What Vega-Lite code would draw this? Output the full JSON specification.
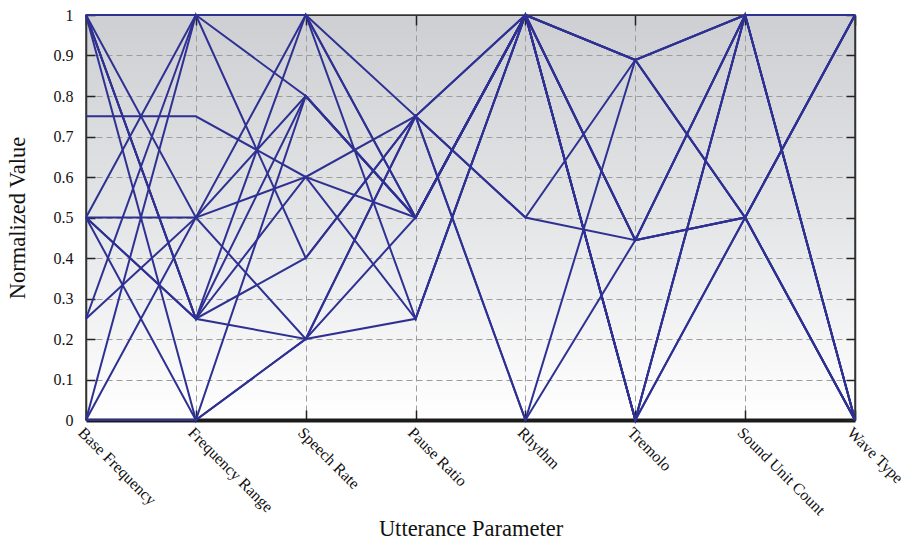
{
  "$schema": "https://vega.github.io/schema/vega-lite/v6.json",
  "width": 769,
  "height": 405,
  "autosize": {"type": "none"},
  "padding": {"left": 86, "top": 15, "right": 54, "bottom": 124},
  "background": "white",
  "config": {
    "view": {
      "fill": {"gradient": "linear", "x1": 0, "y1": 0, "x2": 0, "y2": 1,
        "stops": [{"offset": 0, "color": "#cecfd2"}, {"offset": 0.5, "color": "#e4e5e7"}, {"offset": 1, "color": "#ffffff"}]},
      "stroke": "#3a3a3a",
      "strokeWidth": 1.5
    },
    "axis": {
      "labelFont": "Liberation Serif",
      "titleFont": "Liberation Serif",
      "labelColor": "#111111",
      "titleColor": "#111111",
      "titleFontWeight": "normal",
      "labelFontSize": 16,
      "titleFontSize": 22.5,
      "tickColor": "#222222",
      "domainColor": "#333333"
    }
  },
  "data": {
    "values": [
      {"id": 1, "Base Frequency": 1, "Frequency Range": 1, "Speech Rate": 1, "Pause Ratio": 0.75, "Rhythm": 1, "Tremolo": 0, "Sound Unit Count": 1, "Wave Type": 1},
      {"id": 2, "Base Frequency": 0.5, "Frequency Range": 1, "Speech Rate": 1, "Pause Ratio": 0.5, "Rhythm": 1, "Tremolo": 0, "Sound Unit Count": 0.5, "Wave Type": 1},
      {"id": 3, "Base Frequency": 0.25, "Frequency Range": 1, "Speech Rate": 0.8, "Pause Ratio": 0.5, "Rhythm": 1, "Tremolo": 0, "Sound Unit Count": 1, "Wave Type": 0},
      {"id": 4, "Base Frequency": 0, "Frequency Range": 1, "Speech Rate": 0.4, "Pause Ratio": 0.75, "Rhythm": 0.5, "Tremolo": 0.444, "Sound Unit Count": 1, "Wave Type": 0},
      {"id": 5, "Base Frequency": 0.75, "Frequency Range": 0.75, "Speech Rate": 0.6, "Pause Ratio": 0.75, "Rhythm": 1, "Tremolo": 0.889, "Sound Unit Count": 1, "Wave Type": 1},
      {"id": 6, "Base Frequency": 1, "Frequency Range": 0.5, "Speech Rate": 1, "Pause Ratio": 0.25, "Rhythm": 1, "Tremolo": 0, "Sound Unit Count": 0.5, "Wave Type": 0},
      {"id": 7, "Base Frequency": 0.5, "Frequency Range": 0.5, "Speech Rate": 0.8, "Pause Ratio": 0.5, "Rhythm": 1, "Tremolo": 0.889, "Sound Unit Count": 1, "Wave Type": 0},
      {"id": 8, "Base Frequency": 0.25, "Frequency Range": 0.5, "Speech Rate": 0.6, "Pause Ratio": 0.5, "Rhythm": 1, "Tremolo": 0, "Sound Unit Count": 1, "Wave Type": 1},
      {"id": 9, "Base Frequency": 0, "Frequency Range": 0.5, "Speech Rate": 0.2, "Pause Ratio": 0.75, "Rhythm": 0, "Tremolo": 0.889, "Sound Unit Count": 0.5, "Wave Type": 1},
      {"id": 10, "Base Frequency": 1, "Frequency Range": 0.25, "Speech Rate": 1, "Pause Ratio": 0.5, "Rhythm": 1, "Tremolo": 0.889, "Sound Unit Count": 0.5, "Wave Type": 1},
      {"id": 11, "Base Frequency": 0.5, "Frequency Range": 0.25, "Speech Rate": 0.8, "Pause Ratio": 0.5, "Rhythm": 1, "Tremolo": 0.444, "Sound Unit Count": 1, "Wave Type": 0},
      {"id": 12, "Base Frequency": 1, "Frequency Range": 0.25, "Speech Rate": 0.6, "Pause Ratio": 0.25, "Rhythm": 1, "Tremolo": 0.444, "Sound Unit Count": 1, "Wave Type": 1},
      {"id": 13, "Base Frequency": 0.5, "Frequency Range": 0.25, "Speech Rate": 0.4, "Pause Ratio": 0.75, "Rhythm": 0.5, "Tremolo": 0.889, "Sound Unit Count": 1, "Wave Type": 1},
      {"id": 14, "Base Frequency": 1, "Frequency Range": 0.25, "Speech Rate": 0.2, "Pause Ratio": 0.5, "Rhythm": 1, "Tremolo": 0.889, "Sound Unit Count": 0.5, "Wave Type": 0},
      {"id": 15, "Base Frequency": 1, "Frequency Range": 0, "Speech Rate": 0.8, "Pause Ratio": 0.5, "Rhythm": 1, "Tremolo": 0.444, "Sound Unit Count": 0.5, "Wave Type": 0},
      {"id": 16, "Base Frequency": 0.5, "Frequency Range": 0, "Speech Rate": 0.2, "Pause Ratio": 0.25, "Rhythm": 1, "Tremolo": 0.444, "Sound Unit Count": 0.5, "Wave Type": 1},
      {"id": 17, "Base Frequency": 0, "Frequency Range": 0, "Speech Rate": 0.2, "Pause Ratio": 0.75, "Rhythm": 0, "Tremolo": 0.444, "Sound Unit Count": 0.5, "Wave Type": 0}
    ]
  },
  "transform": [
    {"fold": ["Base Frequency", "Frequency Range", "Speech Rate", "Pause Ratio", "Rhythm", "Tremolo", "Sound Unit Count", "Wave Type"], "as": ["param", "value"]}
  ],
  "layer": [
    {
      "mark": {"type": "line", "color": "#2e3192", "strokeWidth": 2, "clip": false},
      "encoding": {
        "x": {
          "field": "param", "type": "ordinal",
          "sort": ["Base Frequency", "Frequency Range", "Speech Rate", "Pause Ratio", "Rhythm", "Tremolo", "Sound Unit Count", "Wave Type"],
          "scale": {"type": "point", "padding": 0},
          "axis": {
            "orient": "bottom", "title": "Utterance Parameter",
            "labelAngle": 45, "labelAlign": "left", "labelBaseline": "top",
            "labelOverlap": false, "labelBound": false, "labelFlush": false,
            "tickSize": -10, "tickWidth": 1.5, "labelPadding": 14,
            "domainWidth": 4, "domainColor": "#1b1b1b",
            "grid": true, "gridDash": [6, 4], "gridColor": "#9c9c9c", "gridWidth": 1,
            "titlePadding": 0
          }
        },
        "y": {
          "field": "value", "type": "quantitative",
          "scale": {"domain": [0, 1], "nice": false},
          "axis": {
            "orient": "left", "title": "Normalized Value",
            "values": [0, 0.1, 0.2, 0.3, 0.4, 0.5, 0.6, 0.7, 0.8, 0.9, 1],
            "format": ".1~f",
            "tickSize": -9, "tickWidth": 1.5, "labelPadding": 22,
            "domainWidth": 1.5,
            "grid": true, "gridDash": [6, 4], "gridColor": "#9c9c9c", "gridWidth": 1,
            "titlePadding": 24
          }
        },
        "detail": {"field": "id", "type": "nominal"}
      }
    },
    {
      "mark": {"type": "line", "opacity": 0},
      "encoding": {
        "x": {
          "field": "param", "type": "ordinal",
          "sort": ["Base Frequency", "Frequency Range", "Speech Rate", "Pause Ratio", "Rhythm", "Tremolo", "Sound Unit Count", "Wave Type"],
          "axis": {"orient": "top", "title": null, "labels": false, "grid": false, "tickSize": -10, "tickWidth": 1.5, "domainWidth": 1.2}
        },
        "y": {
          "field": "value", "type": "quantitative",
          "axis": {"orient": "right", "title": null, "labels": false, "grid": false, "values": [0, 0.1, 0.2, 0.3, 0.4, 0.5, 0.6, 0.7, 0.8, 0.9, 1], "tickSize": -9, "tickWidth": 1.5, "domainWidth": 1.5}
        },
        "detail": {"field": "id", "type": "nominal"}
      }
    }
  ],
  "resolve": {"axis": {"x": "independent", "y": "independent"}}
}
